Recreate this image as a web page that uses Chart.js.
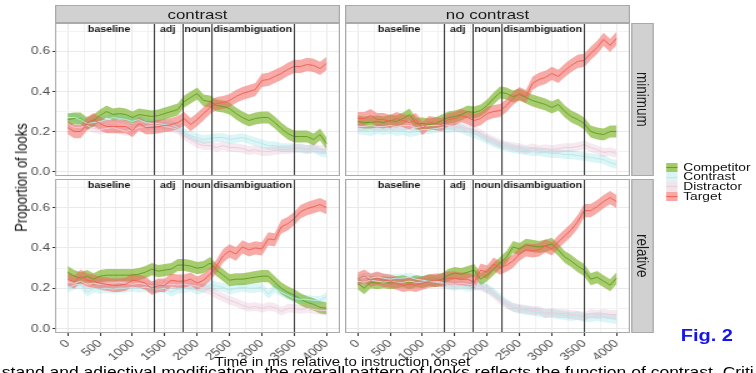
<!DOCTYPE html>
<html>
<head>
<meta charset="utf-8">
<script src="https://cdn.jsdelivr.net/npm/chart.js@4.4.1/dist/chart.umd.min.js"></script>
<style>
html, body { margin: 0; padding: 0; background: #fff; overflow: hidden; }
body { width: 756px; height: 373px; position: relative; }
#fig { position: absolute; left: 0; top: 0; width: 605px; height: 373px; transform: scaleX(1.25); transform-origin: 0 0; font-family: "Liberation Sans", Arial, sans-serif; }
canvas { position: absolute; }
.strip { position: absolute; background: #d1d1d1; border: 1px solid #a9a9a9; box-sizing: border-box; color: #1a1a1a; font-size: 13.5px; display: flex; align-items: center; justify-content: center; }
.vstrip { writing-mode: vertical-rl; }
.txt { position: absolute; white-space: nowrap; }
.key { position: absolute; width: 9.6px; height: 9.7px; }
.key span { position: absolute; left: 0; right: 0; top: 4.3px; height: 1px; }
</style>
</head>
<body>
<div id="fig">
  <div class="strip" style="left:44px;top:5px;width:228px;height:18px;">contrast</div>
  <div class="strip" style="left:276px;top:5px;width:228px;height:18px;">no contrast</div>
  <div class="strip vstrip" style="left:505px;top:23px;width:17.6px;height:153px;">minimum</div>
  <div class="strip vstrip" style="left:505px;top:179px;width:17.6px;height:154px;">relative</div>

  <canvas id="tl" width="272" height="153" style="left:0px;top:23px;"></canvas>
  <canvas id="tr" width="228" height="153" style="left:276px;top:23px;"></canvas>
  <canvas id="bl" width="272" height="181" style="left:0px;top:179px;"></canvas>
  <canvas id="br" width="228" height="181" style="left:276px;top:179px;"></canvas>

  <div class="txt" style="left:-83px;top:170px;width:200px;text-align:center;font-size:13px;line-height:15px;color:#111;transform:rotate(-90deg);">Proportion of looks</div>
  <div class="txt" style="left:124px;top:355px;width:300px;text-align:center;font-size:12px;line-height:14px;color:#111;">Time in ms relative to instruction onset</div>

  <div id="legend"></div>

  <div class="txt" style="left:544.6px;top:327.5px;font-size:16px;line-height:16px;font-weight:bold;color:#1414f0;">Fig. 2</div>
  <div class="txt" style="right:2px;top:365px;font-size:14px;line-height:15px;color:#000;">stand and adjectival modification, the overall pattern of looks reflects the function of contrast. Criti</div>
</div>

<script>
// time bins (ms)
const times = [0,100,200,300,400,500,600,700,800,900,1000,1100,1200,1300,1400,1500,1600,1700,1800,1900,2000,
               2100,2200,2300,2400,2500,2600,2700,2800,2900,3000,3100,3200,3300,3400,3500,3600,3700,3800,3900,4000];

const seriesNames = ['Competitor', 'Contrast', 'Distractor', 'Target'];
const bandHalf = [0.03, 0.022, 0.022, 0.033];

const phaseBounds = [1325, 1780, 2225, 3485];
const phaseNames = ['baseline', 'adj', 'noun', 'disambiguation'];
const phaseLabelX = [640, 1545, 2005, 2860];

const xTicks = [0, 500, 1000, 1500, 2000, 2500, 3000, 3500, 4000];
const yTicks = [0.0, 0.2, 0.4, 0.6];

// contrast / minimum
const tlCompetitor = [0.26,0.265,0.265,0.24,0.255,0.28,0.30,0.285,0.29,0.285,0.27,0.285,0.28,0.275,0.28,0.29,0.30,0.31,0.35,0.37,0.39,
                      0.355,0.35,0.33,0.325,0.315,0.29,0.27,0.255,0.265,0.27,0.27,0.245,0.215,0.19,0.175,0.175,0.175,0.16,0.185,0.14];
const tlContrast   = [0.27,0.27,0.26,0.24,0.245,0.25,0.26,0.27,0.265,0.26,0.25,0.26,0.245,0.24,0.24,0.235,0.235,0.22,0.195,0.18,0.17,
                      0.16,0.165,0.17,0.17,0.16,0.165,0.17,0.16,0.15,0.14,0.13,0.13,0.12,0.12,0.12,0.115,0.11,0.115,0.10,0.09];
const tlDistractor = [0.24,0.22,0.22,0.23,0.215,0.21,0.215,0.22,0.21,0.20,0.21,0.22,0.225,0.23,0.23,0.225,0.22,0.21,0.18,0.16,0.14,
                      0.13,0.13,0.12,0.13,0.12,0.12,0.115,0.105,0.11,0.10,0.10,0.105,0.11,0.11,0.115,0.12,0.11,0.12,0.11,0.11];
const tlTarget     = [0.22,0.20,0.20,0.24,0.26,0.24,0.225,0.225,0.225,0.225,0.205,0.24,0.22,0.22,0.225,0.23,0.235,0.245,0.265,0.235,0.26,
                      0.29,0.32,0.34,0.345,0.355,0.375,0.39,0.40,0.41,0.455,0.46,0.475,0.49,0.51,0.525,0.525,0.535,0.53,0.515,0.54];

// no contrast / minimum
const trCompetitor = [0.25,0.245,0.245,0.25,0.245,0.255,0.25,0.265,0.285,0.24,0.24,0.235,0.24,0.255,0.27,0.275,0.285,0.30,0.295,0.305,0.33,
                      0.365,0.395,0.39,0.375,0.385,0.37,0.355,0.345,0.335,0.32,0.335,0.30,0.275,0.26,0.24,0.20,0.19,0.185,0.20,0.20];
const trContrast   = [0.21,0.205,0.20,0.21,0.205,0.21,0.20,0.205,0.195,0.20,0.21,0.21,0.215,0.22,0.215,0.22,0.215,0.20,0.19,0.175,0.16,
                      0.145,0.13,0.125,0.115,0.11,0.105,0.10,0.10,0.095,0.09,0.09,0.085,0.085,0.08,0.075,0.07,0.065,0.06,0.045,0.035];
const trDistractor = [0.225,0.225,0.23,0.225,0.225,0.23,0.225,0.23,0.23,0.22,0.225,0.23,0.23,0.235,0.23,0.225,0.22,0.215,0.21,0.19,0.17,
                      0.155,0.14,0.13,0.125,0.12,0.11,0.12,0.11,0.115,0.11,0.115,0.12,0.12,0.125,0.135,0.12,0.11,0.095,0.10,0.09];
const trTarget     = [0.265,0.265,0.28,0.26,0.26,0.25,0.265,0.255,0.245,0.26,0.215,0.245,0.24,0.235,0.26,0.265,0.28,0.27,0.255,0.265,0.29,
                      0.30,0.305,0.33,0.365,0.39,0.375,0.44,0.46,0.47,0.49,0.475,0.505,0.53,0.55,0.555,0.59,0.62,0.66,0.63,0.665];

// contrast / relative
const blCompetitor = [0.28,0.26,0.25,0.26,0.245,0.26,0.265,0.265,0.265,0.265,0.265,0.27,0.28,0.295,0.285,0.29,0.295,0.315,0.315,0.31,0.30,
                      0.305,0.325,0.29,0.265,0.24,0.245,0.245,0.25,0.255,0.26,0.26,0.23,0.20,0.18,0.165,0.145,0.13,0.12,0.105,0.10];
const blContrast   = [0.20,0.215,0.22,0.18,0.20,0.195,0.20,0.195,0.20,0.20,0.205,0.20,0.205,0.20,0.195,0.20,0.18,0.195,0.20,0.205,0.19,
                      0.20,0.22,0.21,0.205,0.19,0.20,0.205,0.20,0.20,0.205,0.17,0.20,0.18,0.165,0.15,0.145,0.145,0.14,0.14,0.16];
const blDistractor = [0.23,0.225,0.235,0.22,0.225,0.22,0.225,0.225,0.23,0.225,0.22,0.225,0.22,0.21,0.215,0.22,0.22,0.215,0.22,0.215,0.21,
                      0.20,0.19,0.17,0.155,0.14,0.13,0.115,0.105,0.11,0.10,0.11,0.105,0.085,0.10,0.10,0.095,0.10,0.095,0.09,0.09];
const blTarget     = [0.245,0.23,0.26,0.24,0.235,0.225,0.22,0.215,0.215,0.22,0.24,0.235,0.225,0.20,0.215,0.215,0.24,0.235,0.235,0.245,0.225,
                      0.24,0.27,0.31,0.36,0.385,0.37,0.405,0.39,0.40,0.395,0.445,0.44,0.505,0.52,0.545,0.58,0.595,0.605,0.615,0.60];

// no contrast / relative
const brCompetitor = [0.225,0.20,0.23,0.225,0.23,0.225,0.23,0.235,0.225,0.235,0.23,0.24,0.235,0.245,0.265,0.275,0.27,0.28,0.29,0.245,0.265,
                      0.295,0.325,0.355,0.405,0.395,0.415,0.41,0.405,0.41,0.42,0.39,0.355,0.335,0.31,0.29,0.245,0.255,0.235,0.215,0.25];
const brContrast   = [0.245,0.255,0.25,0.255,0.25,0.245,0.25,0.25,0.255,0.245,0.24,0.235,0.235,0.23,0.215,0.21,0.215,0.205,0.21,0.215,0.20,
                      0.18,0.155,0.125,0.105,0.095,0.09,0.085,0.08,0.075,0.075,0.07,0.065,0.06,0.065,0.055,0.055,0.06,0.055,0.05,0.045];
const brDistractor = [0.235,0.23,0.24,0.235,0.23,0.235,0.23,0.23,0.235,0.23,0.23,0.235,0.23,0.225,0.225,0.22,0.225,0.22,0.215,0.21,0.195,
                      0.17,0.14,0.12,0.105,0.10,0.095,0.09,0.09,0.075,0.08,0.075,0.075,0.07,0.065,0.06,0.075,0.07,0.075,0.07,0.07];
const brTarget     = [0.245,0.26,0.24,0.25,0.24,0.235,0.225,0.215,0.22,0.215,0.225,0.235,0.24,0.24,0.25,0.25,0.245,0.245,0.23,0.29,0.28,
                      0.32,0.30,0.315,0.335,0.37,0.39,0.385,0.39,0.41,0.395,0.43,0.46,0.49,0.53,0.585,0.585,0.605,0.63,0.65,0.63];

const lineColors = ['#64a020', '#bfe6e8', '#eacedb', '#f0625a'];
const bandColors = ['rgba(115,175,25,0.62)', 'rgba(0,191,196,0.14)', 'rgba(205,120,160,0.16)', 'rgba(240,100,92,0.55)'];
const keyColors = ['#a2ca66', '#dcf3f4', '#f2e3ea', '#f8a7a2'];

const FONT = '"Liberation Sans", Arial, sans-serif';
Chart.defaults.font.family = FONT;

function toPoints(vals, shift){
    return times.map((t, i) => ({x: t, y: vals[i] + shift}));
}

const panelDecor = {
    id: 'panelDecor',
    afterDatasetsDraw(chart){
        const ctx = chart.ctx;
        const a = chart.chartArea;
        const x = chart.scales.x;
        ctx.save();
        ctx.strokeStyle = '#3b3b3b';
        ctx.lineWidth = 1;
        phaseBounds.forEach(b => {
            const px = Math.round(x.getPixelForValue(b)) + 0.5;
            ctx.beginPath();
            ctx.moveTo(px, a.top);
            ctx.lineTo(px, a.bottom);
            ctx.stroke();
        });
        ctx.fillStyle = '#111';
        ctx.font = 'bold 8.5px ' + FONT;
        ctx.textAlign = 'center';
        ctx.textBaseline = 'middle';
        phaseNames.forEach((n, i) => ctx.fillText(n, x.getPixelForValue(phaseLabelX[i]), a.top + 6.5));
        ctx.strokeStyle = '#ababab';
        ctx.strokeRect(a.left + 0.5, a.top + 0.5, a.right - a.left - 1, a.bottom - a.top - 1);
        ctx.restore();
    }
};

function displayPanel(id, seriesValues, showY, showX){
    const datasets = [];
    // lines first in the list -> drawn on top
    for(let k = seriesValues.length - 1; k >= 0; k--){
        datasets.push({
            label: seriesNames[k],
            data: toPoints(seriesValues[k], 0),
            borderColor: lineColors[k],
            borderWidth: 1,
            pointRadius: 0,
            fill: false,
            tension: 0
        });
    }
    for(let k = seriesValues.length - 1; k >= 0; k--){
        datasets.push({
            data: toPoints(seriesValues[k], bandHalf[k]),
            borderWidth: 0,
            pointRadius: 0,
            backgroundColor: bandColors[k],
            fill: '+1',
            tension: 0
        });
        datasets.push({
            data: toPoints(seriesValues[k], -bandHalf[k]),
            borderWidth: 0,
            pointRadius: 0,
            fill: false,
            tension: 0
        });
    }
    const isMajorX = v => xTicks.includes(v);
    const isMajorY = v => yTicks.some(t => Math.abs(t - v) < 1e-6);
    new Chart(document.getElementById(id), {
        type: 'line',
        data: {datasets},
        plugins: [panelDecor],
        options: {
            responsive: false,
            animation: false,
            events: [],
            layout: {padding: 0},
            plugins: {legend: {display: false}, tooltip: {enabled: false}},
            scales: {
                x: {
                    type: 'linear',
                    min: -196,
                    max: 4208,
                    border: {display: false},
                    grid: {
                        color: c => isMajorX(c.tick.value) ? '#e9e9e9' : '#f2f2f2',
                        lineWidth: 1,
                        drawTicks: showX,
                        tickLength: 3,
                        tickColor: c => isMajorX(c.tick.value) ? '#333' : 'rgba(0,0,0,0)'
                    },
                    ticks: {
                        display: showX,
                        stepSize: 250,
                        includeBounds: false,
                        autoSkip: false,
                        minRotation: 45,
                        maxRotation: 45,
                        padding: 1,
                        color: '#4d4d4d',
                        font: {size: 11},
                        callback: v => isMajorX(v) ? String(v) : ''
                    },
                    afterFit: s => {
                        s.height = showX ? 27 : 0;
                        s.paddingLeft = 0; s.paddingRight = 0;
                    }
                },
                y: {
                    min: -0.022,
                    max: 0.742,
                    border: {display: false},
                    grid: {
                        color: c => isMajorY(c.tick.value) ? '#e9e9e9' : '#f2f2f2',
                        lineWidth: 1,
                        drawTicks: showY,
                        tickLength: 2,
                        tickColor: c => isMajorY(c.tick.value) ? '#333' : 'rgba(0,0,0,0)'
                    },
                    ticks: {
                        display: showY,
                        stepSize: 0.1,
                        includeBounds: false,
                        padding: 2,
                        color: '#4d4d4d',
                        font: {size: 11},
                        callback: v => isMajorY(v) ? v.toFixed(1) : ''
                    },
                    afterFit: s => {
                        s.width = showY ? 44 : 0;
                        s.paddingTop = 0; s.paddingBottom = 0;
                    }
                }
            }
        }
    });
}

function displayLegend(){
    const box = document.getElementById('legend');
    const rowTop = [162.7, 172.3, 182.0, 191.7];
    seriesNames.forEach((name, k) => {
        const key = document.createElement('div');
        key.className = 'key';
        key.style.left = '532.8px';
        key.style.top = rowTop[k] + 'px';
        key.style.background = keyColors[k];
        const ln = document.createElement('span');
        ln.style.background = lineColors[k];
        key.appendChild(ln);
        box.appendChild(key);
        const lab = document.createElement('div');
        lab.className = 'txt';
        lab.style.left = '546.6px';
        lab.style.top = (rowTop[k] - 1) + 'px';
        lab.style.fontSize = '11px';
        lab.style.lineHeight = '11px';
        lab.style.color = '#111';
        lab.textContent = name;
        box.appendChild(lab);
    });
}

displayPanel('tl', [tlCompetitor, tlContrast, tlDistractor, tlTarget], true, false);
displayPanel('tr', [trCompetitor, trContrast, trDistractor, trTarget], false, false);
displayPanel('bl', [blCompetitor, blContrast, blDistractor, blTarget], true, true);
displayPanel('br', [brCompetitor, brContrast, brDistractor, brTarget], false, true);
displayLegend();
</script>
</body>
</html>
